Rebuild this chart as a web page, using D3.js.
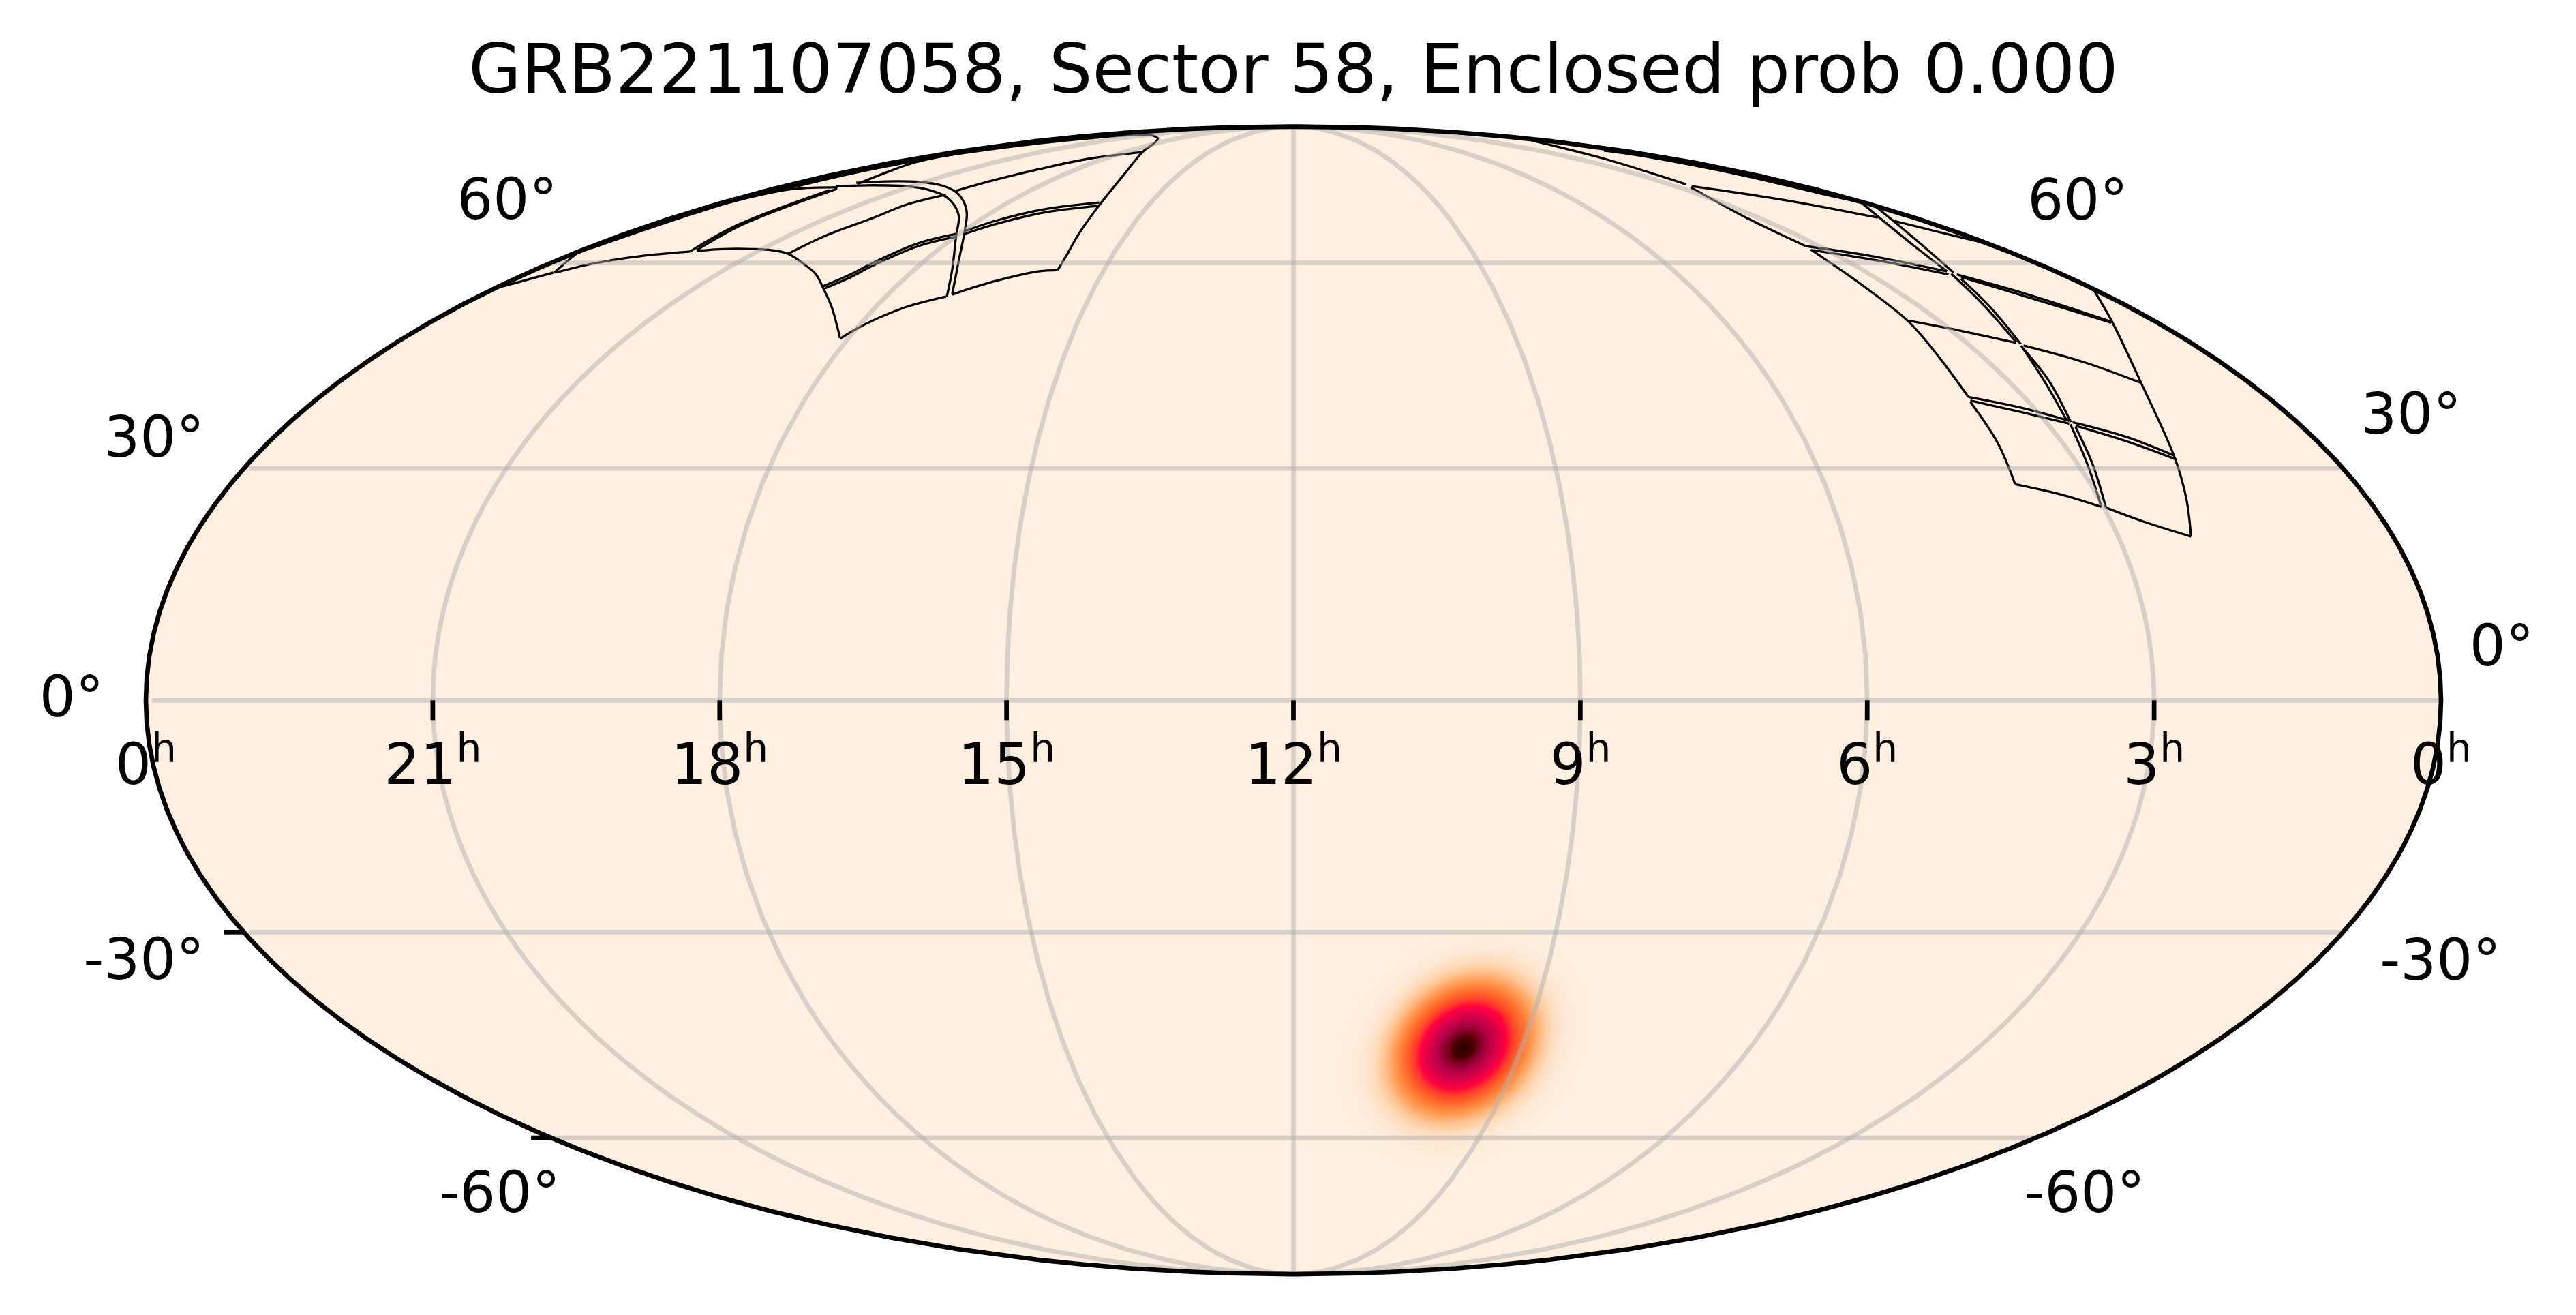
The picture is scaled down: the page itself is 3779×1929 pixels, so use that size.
<!DOCTYPE html>
<html>
<head>
<meta charset="utf-8">
<script src="https://d3js.org/d3.v7.min.js"></script>
<style>
  body { margin: 0; background: #fff; }
  text { font-family: "DejaVu Sans"; fill: #000; }
</style>
</head>
<body>
<div id="chart"></div>
<script>
// Chart values, all in sky coordinates (RA deg, Dec deg)
const titleText = "GRB221107058, Sector 58, Enclosed prob 0.000";
const raTickHours = [21, 18, 15, 12, 9, 6, 3];
const decGrid = [60, 30, 0, -30, -60];
const decTicked = [-30, -60];
const decLabels = ["60°", "30°", "0°", "-30°", "-60°"];

// Probability blob: centre, then enclosed radius (deg) against probability
const blobCentre = [146.5, -46.1];
const blobRadius = [0, 1.75, 2.33, 3.1, 4.3, 5.8, 7, 8.0, 9.3, 10.7, 12.1, 13.2, 14.7, 16.5, 19, 21.5];
const blobProb = [1, 0.96, 0.93, 0.87, 0.77, 0.62, 0.5, 0.39, 0.26, 0.17, 0.1, 0.06, 0.03, 0.013, 0.004, 0];
const blobAxisA = [0.741, 0.634];
const blobAxisB = [-0.9, 0.58];

// CCD edges of the sector footprint
const ccdEdges = [
  [[359.5, 56.0], [354.1, 58.4]],
  [[353.9, 58.4], [359.8, 62.0], [359.9, 62.8]],
  [[353.6, 58.4], [350.0, 59.7], [345.0, 60.7], [338.8, 61.4], [331.9, 61.9]],
  [[330.6, 62.0], [324.6, 62.3], [317.6, 62.3], [311.8, 62.1], [306.2, 61.5], [298.2, 59.8], [291.7, 58.1], [286.2, 56.0], [279.5, 53.0], [271.7, 48.3]],
  [[331.9, 61.9], [335.6, 66.4], [338.9, 73.0]],
  [[330.9, 62.1], [334.6, 66.6], [338.0, 73.3]],
  [[358.5, 70.2], [355.9, 72.6], [352.3, 73.3], [339.6, 73.6]],
  [[358.8, 62.5], [357.9, 70.0], [357.2, 73.0], [356.6, 75.5], [355.9, 77.5], [354.8, 79.4], [352.8, 80.8], [347.7, 83.1], [338.8, 85.2], [326.6, 86.2], [303.0, 86.0], [285.5, 85.2]],
  [[355.9, 72.6], [355.0, 74.9], [354.6, 77.1], [354.0, 79.3]],
  [[336.9, 74.3], [342.9, 76.7], [350.7, 79.0], [352.8, 80.8]],
  [[255.7, 54.9], [262.0, 60.6], [269.4, 65.3], [276.9, 68.6], [283.8, 70.6], [293.8, 72.6], [305.4, 74.0], [317.2, 74.7], [329.8, 74.8], [338.7, 74.5]],
  [[256.5, 54.6], [261.4, 59.2], [269.8, 64.4], [277.6, 68.0], [284.8, 70.0], [294.2, 71.8], [305.5, 73.1], [316.7, 73.8], [329.6, 74.0], [341.6, 73.8]],
  [[255.7, 54.9], [252.1, 56.1], [246.0, 57.6], [240.3, 58.6], [235.9, 58.8]],
  [[271.6, 48.2], [268.9, 50.4], [263.4, 53.0], [256.7, 54.6]],
  [[235.9, 58.8], [236.3, 61.0], [237.8, 64.9], [240.2, 70.0], [246.0, 76.0], [261.0, 81.6], [274.5, 84.2], [285.5, 85.2]],
  [[286.6, 56.2], [283.7, 58.1], [281.9, 60.0], [277.3, 63.3], [270.8, 64.9]],
  [[285.6, 55.9], [282.9, 57.6], [281.1, 59.5], [276.3, 62.8], [269.8, 64.4]],
  [[269.6, 65.4], [264.8, 67.3], [255.9, 69.3], [241.2, 70.6]],
  [[268.6, 64.9], [263.5, 66.7], [254.6, 68.7], [240.2, 70.0]],
  [[306.2, 61.5], [305.0, 64.7], [301.8, 67.7], [300.5, 70.2], [295.2, 72.1]],
  [[295.1, 72.9], [290.9, 75.2], [284.8, 77.6], [277.1, 79.8], [260.0, 81.4]],
  [[1.0, 70.6], [18.6, 64.0], [25.7, 58.6]],
  [[25.8, 58.2], [30.4, 53.6], [34.9, 47.7]],
  [[34.8, 47.2], [38.3, 42.0], [41.0, 36.7]],
  [[41.0, 36.0], [43.4, 30.5], [45.4, 24.9]],
  [[0.2, 70.0], [16.1, 64.0], [24.7, 58.4]],
  [[25.7, 57.4], [30.2, 52.7], [34.5, 47.4]],
  [[35.1, 46.8], [37.4, 42.0], [40.6, 36.3]],
  [[40.5, 35.6], [42.5, 30.5], [44.7, 24.8]],
  [[0.7, 55.5], [9.2, 50.7], [20.4, 41.8], [27.5, 31.4], [30.4, 26.0], [33.1, 21.0]],
  [[33.1, 21.0], [39.5, 22.9], [44.7, 24.8]],
  [[57.8, 27.9], [51.3, 26.6], [45.4, 24.9]],
  [[55.7, 39.1], [56.4, 33.5], [57.8, 27.9]],
  [[48.9, 62.2], [50.8, 56.3], [51.6, 50.7], [53.7, 45.4], [55.3, 39.8]],
  [[40.9, 73.6], [48.8, 67.6], [48.5, 62.8]],
  [[10.3, 84.5], [32.5, 79.8], [39.2, 74.2]],
  [[39.4, 73.8], [22.4, 71.0], [10.5, 67.8]],
  [[8.7, 67.3], [5.6, 65.6], [0.6, 63.4]],
  [[48.5, 62.8], [36.6, 61.1], [25.7, 58.6]],
  [[48.6, 62.1], [37.4, 60.4], [26.7, 58.1]],
  [[24.8, 58.1], [17.2, 55.0], [9.2, 50.7]],
  [[24.9, 57.7], [18.3, 54.6], [9.6, 50.6]],
  [[51.3, 50.9], [42.8, 49.3], [35.1, 47.6]],
  [[34.3, 47.2], [26.6, 44.8], [20.4, 41.8]],
  [[55.3, 39.8], [47.3, 38.3], [40.7, 36.5]],
  [[55.5, 39.3], [48.0, 37.7], [41.1, 36.1]],
  [[40.3, 36.3], [33.0, 34.3], [27.2, 31.7]],
  [[40.3, 35.8], [33.6, 33.7], [27.4, 31.2]],
  [[9.9, 81.8], [7.1, 80.4], [5.5, 76.2], [3.9, 72.6], [1.0, 70.6]]
];

// Layout and style
const svgWidth = 3779;
const svgHeight = 1929;
const mapCentre = [1897.5, 1027.3];
const mapHalfWidth = 1683.5;
const tickLength = 29;
const lineWide = 6.67;
const lineThin = 3.33;
const labelSize = 83.3;
const decLabelLeft = [[744, 321], [226, 670], [105, 1051], [211, 1436], [733, 1778]];
const decLabelRight = [[3048, 322], [3537, 636], [3670, 976], [3580, 1437], [3058, 1778]];
const raLabelBaseline = 1150;

const probColour = d3.scaleLinear()
  .domain([0, 0.004, 0.013, 0.03, 0.06, 0.1, 0.17, 0.26, 0.39, 0.5, 0.62, 0.77, 0.87, 0.93, 0.96, 1])
  .range(["#feefe0", "#feeede", "#fee8d4", "#feddbe", "#ffc798", "#ffae70", "#ff8a40", "#ff6428",
           "#ff3a2c", "#ff0040", "#e00048", "#b80048", "#900030", "#700018", "#4a0000", "#2a0000"]);

// Mollweide raw projection, d3 core has none
function mollweideRaw(lambda, phi) {
  let theta = phi;
  for (let i = 0; i < 30; i++) {
    const delta = (2 * theta + Math.sin(2 * theta) - Math.PI * Math.sin(phi)) / (2 + 2 * Math.cos(2 * theta) + 1e-9);
    theta -= delta;
    if (Math.abs(delta) < 1e-9) break;
  }
  return [(2 * Math.SQRT2 / Math.PI) * lambda * Math.cos(theta), Math.SQRT2 * Math.sin(theta)];
}

// RA increases to the left, 12h in the middle
const projection = d3.geoProjection(mollweideRaw)
  .rotate([-180, 0])
  .reflectX(true)
  .scale(mapHalfWidth / (2 * Math.SQRT2))
  .translate(mapCentre);
const path = d3.geoPath(projection);

const svg = d3.select("#chart")
  .append("svg")
  .attr("width", svgWidth)
  .attr("height", svgHeight);

// Map background
svg.append("path")
  .datum({ type: "Sphere" })
  .attr("d", path)
  .attr("fill", probColour(0));

// Blob as one radial gradient, stretched along the local projected sky axes
const maxRadius = d3.max(blobRadius);
const gradient = svg.append("defs").append("radialGradient").attr("id", "blobFill");
gradient.selectAll("stop")
  .data(blobRadius)
  .enter()
  .append("stop")
  .attr("offset", d => d / maxRadius)
  .attr("stop-color", (d, i) => probColour(blobProb[i]));

const centrePx = projection(blobCentre);
const axisPx = axis => {
  const end = projection([blobCentre[0] - axis[0], blobCentre[1] + axis[1]]);
  return [(end[0] - centrePx[0]) * maxRadius, (end[1] - centrePx[1]) * maxRadius];
};
const axisA = axisPx(blobAxisA);
const axisB = axisPx(blobAxisB);
svg.append("circle")
  .attr("r", 1)
  .attr("transform", `matrix(${axisA[0]},${axisA[1]},${axisB[0]},${axisB[1]},${centrePx[0]},${centrePx[1]})`)
  .attr("fill", "url(#blobFill)");

// CCD outlines
const ccdLine = d3.line()
  .x(d => projection(d)[0])
  .y(d => projection(d)[1])
  .curve(d3.curveCatmullRom.alpha(0.5));
svg.selectAll(".ccd")
  .data(ccdEdges)
  .enter()
  .append("path")
  .attr("class", "ccd")
  .attr("d", ccdLine)
  .attr("fill", "none")
  .attr("stroke", "#000")
  .attr("stroke-width", lineThin);

// Grid goes over the outlines
const gridLines = [
  ...raTickHours.map(h => ({ type: "LineString", coordinates: [[h * 15, -89.99], [h * 15, 0], [h * 15, 89.99]] })),
  ...decGrid.map(dec => ({ type: "LineString", coordinates: d3.range(0.01, 360, 1).map(ra => [ra, dec]) }))
];
svg.selectAll(".grid")
  .data(gridLines)
  .enter()
  .append("path")
  .attr("class", "grid")
  .attr("d", path)
  .attr("fill", "none")
  .attr("stroke", "#b0b0b0")
  .attr("stroke-opacity", 0.5)
  .attr("stroke-width", lineWide);

// Outline of the map
svg.append("path")
  .datum({ type: "Sphere" })
  .attr("d", path)
  .attr("fill", "none")
  .attr("stroke", "#000")
  .attr("stroke-width", lineWide);

// Ticks
svg.selectAll(".raTick")
  .data(raTickHours)
  .enter()
  .append("line")
  .attr("x1", d => projection([d * 15, 0])[0])
  .attr("x2", d => projection([d * 15, 0])[0])
  .attr("y1", d => projection([d * 15, 0])[1])
  .attr("y2", d => projection([d * 15, 0])[1] + tickLength)
  .attr("stroke", "#000")
  .attr("stroke-width", lineWide);

svg.selectAll(".decTick")
  .data(decTicked)
  .enter()
  .append("line")
  .attr("x1", d => projection([359.99, d])[0])
  .attr("x2", d => projection([359.99, d])[0] - tickLength)
  .attr("y1", d => projection([359.99, d])[1])
  .attr("y2", d => projection([359.99, d])[1])
  .attr("stroke", "#000")
  .attr("stroke-width", lineWide);

// RA labels, 0h sits at both ends of the map
const raLabels = [
  { hour: 0, ra: 359.99 },
  ...raTickHours.map(h => ({ hour: h, ra: h * 15 })),
  { hour: 0, ra: 0.01 }
];
const raText = svg.selectAll(".raLabel")
  .data(raLabels)
  .enter()
  .append("text")
  .attr("x", d => projection([d.ra, 0])[0])
  .attr("y", raLabelBaseline)
  .attr("text-anchor", "middle")
  .attr("font-size", labelSize)
  .text(d => d.hour);
raText.append("tspan")
  .attr("font-size", labelSize * 0.7)
  .attr("dy", -32)
  .text("h");

// Dec labels on both sides
[decLabelLeft, decLabelRight].forEach(side => {
  svg.append("g")
    .selectAll("text")
    .data(decLabels)
    .enter()
    .append("text")
    .attr("x", (d, i) => side[i][0])
    .attr("y", (d, i) => side[i][1])
    .attr("text-anchor", "middle")
    .attr("font-size", labelSize)
    .text(d => d);
});

// Title
svg.append("text")
  .attr("x", mapCentre[0])
  .attr("y", 136)
  .attr("text-anchor", "middle")
  .attr("font-size", 100)
  .text(titleText);
</script>
</body>
</html>
